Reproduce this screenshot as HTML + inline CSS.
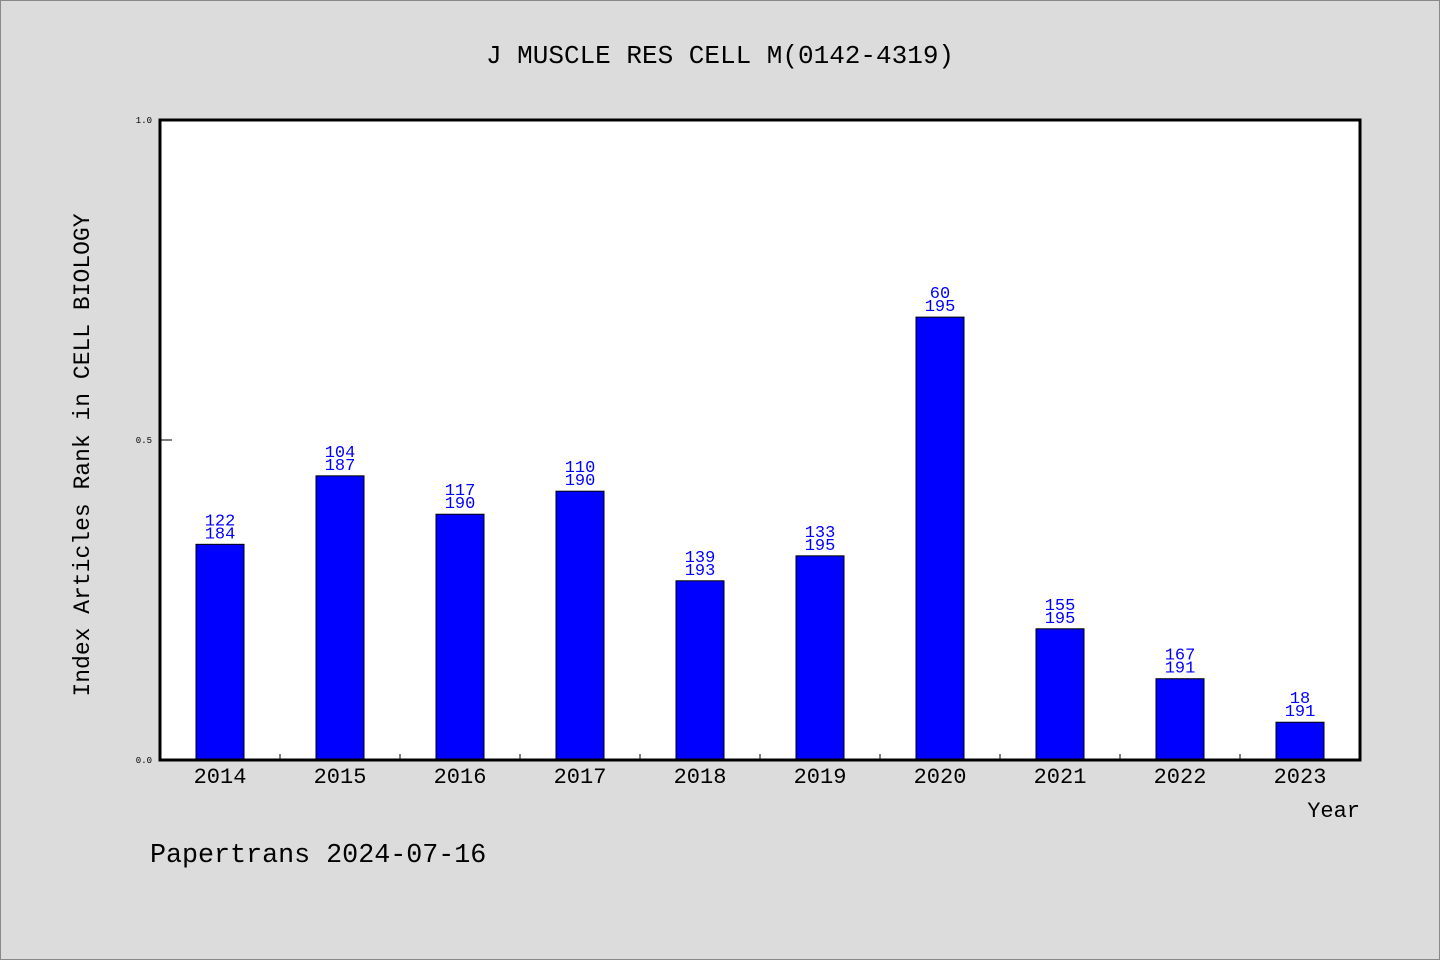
<!DOCTYPE html>
<html><head><meta charset="utf-8">
<style>
html,body{margin:0;padding:0;background:#dcdcdc;}
svg{display:block;font-family:"WenQuanYi Zen Hei","Liberation Mono",monospace;}
</style></head>
<body>
<svg id="chart" width="1440" height="960" viewBox="0 0 1440 960">
<rect x="0.5" y="0.5" width="1439" height="959" fill="#dcdcdc" stroke="#888"/>
<text x="720" y="63" text-anchor="middle" font-size="26" fill="#000">J MUSCLE RES CELL M(0142-4319)</text>
<rect x="160" y="120" width="1200" height="640" fill="#fff"/>
<g id="marks"></g>
<rect x="160" y="120" width="1200" height="640" fill="none" stroke="#000" stroke-width="3"/>
<text transform="translate(89,455) rotate(-90)" text-anchor="middle" font-size="23" fill="#000">Index Articles Rank in CELL BIOLOGY</text>
<text x="1360" y="817" text-anchor="end" font-size="22" fill="#000">Year</text>
<text x="150" y="862" font-size="26.7" fill="#000">Papertrans 2024-07-16</text>
</svg>
<script>
const years = ["2014","2015","2016","2017","2018","2019","2020","2021","2022","2023"];
const values = [0.337,0.444,0.384,0.420,0.280,0.319,0.692,0.205,0.127,0.059];
const ranks = [122,104,117,110,139,133,60,155,167,18];
const totals = [184,187,190,190,193,195,195,195,191,191];
const yTicks = [0, 0.5, 1.0];
const yTickLabels = ["0.0","0.5","1.0"];

const X0=160, W=1200, Y0=760, H=640;
const band = W / years.length;
const xPos = i => X0 + band*(i+0.5);
const yPos = v => Y0 - v*H;
const NS="http://www.w3.org/2000/svg";
const g=document.getElementById('marks');
function mk(tag, attrs){const e=document.createElementNS(NS,tag);for(const k in attrs)e.setAttribute(k,attrs[k]);g.appendChild(e);return e;}

yTicks.forEach((t,i)=>{
  const y=yPos(t);
  const l=mk('line',{x1:160,x2:172,y1:y,y2:y,stroke:'#000','stroke-width':1});
  
  
  const tx=mk('text',{x:152,y:y+3,'text-anchor':'end','font-size':9,fill:'#000'});
  tx.textContent=yTickLabels[i];
  
  
});

years.forEach((yr,i)=>{
  const v = values[i];
  const cx=xPos(i), top=yPos(v);
  const b=mk('rect',{x:cx-24,y:top,width:48,height:Y0-top,fill:'#0000ff',stroke:'#000','stroke-width':1});
  
  
  const t1=mk('text',{x:cx,y:top-19,'text-anchor':'middle','font-size':17,fill:'#0000ff'});
  t1.textContent=ranks[i];
  
  
  const t2=mk('text',{x:cx,y:top-6,'text-anchor':'middle','font-size':17,fill:'#0000ff'});
  t2.textContent=totals[i];
  
  
  const xl=mk('text',{x:cx,y:783,'text-anchor':'middle','font-size':22,fill:'#000'});
  xl.textContent=yr;
  
  
  if(i>0){
    const tk=mk('line',{x1:X0+band*i,x2:X0+band*i,y1:754,y2:760,stroke:'#000','stroke-width':1});
    
    
  }
});
</script>
</body></html>
